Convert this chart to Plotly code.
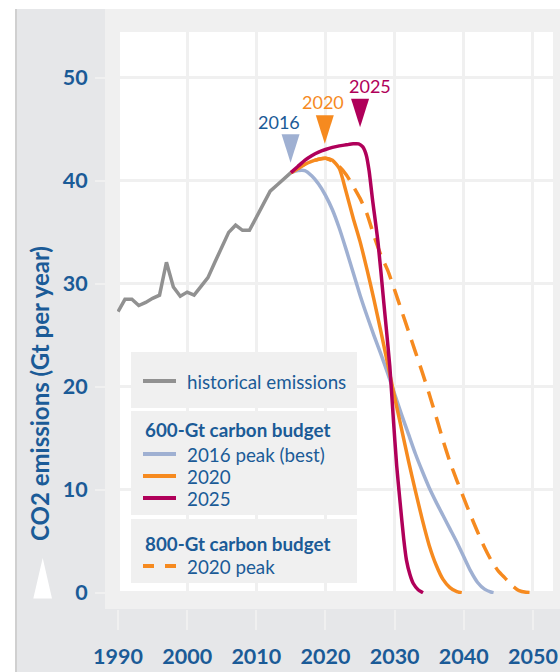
import plotly.graph_objects as go

W, H = 560, 672

# historical emissions (Gt CO2 per year)
hist_years = list(range(1990, 2016))
hist_values = [27.3, 28.5, 28.5, 27.9, 28.2, 28.6, 28.9, 32.1, 29.7, 28.8,
               29.2, 28.9, 29.75, 30.6, 32.1, 33.6, 35.0, 35.7, 35.2, 35.2,
               36.5, 37.8, 39.0, 39.6, 40.2, 40.8]

# 600-Gt budget, peak in 2016 (best)
p2016_years = [2015, 2016, 2017, 2018, 2019, 2020, 2021, 2022, 2023, 2024,
               2025, 2026, 2027, 2028, 2029, 2030, 2031, 2032, 2033, 2034,
               2035, 2036, 2037, 2038, 2039, 2040, 2041, 2042, 2043, 2044, 2044.3]
p2016_values = [40.8, 41.0, 41.0, 40.5, 39.7, 38.6, 37.2, 35.4, 33.3, 31.1,
                28.9, 26.9, 25.0, 23.2, 21.3, 19.3, 17.3, 15.4, 13.5, 11.8,
                10.2, 8.8, 7.5, 6.2, 4.9, 3.5, 2.1, 1.0, 0.35, 0.05, 0.0]

# 600-Gt budget, peak in 2020
p2020_years = [2015, 2016, 2017, 2018, 2019, 2020, 2021, 2022, 2023, 2024,
               2025, 2026, 2027, 2028, 2029, 2030, 2031, 2032, 2033, 2034,
               2035, 2036, 2037, 2038, 2039, 2039.7]
p2020_values = [40.8, 41.2, 41.6, 41.9, 42.1, 42.2, 42.0, 41.2, 38.9, 36.4,
                34.1, 31.4, 28.5, 25.4, 22.2, 19.0, 15.9, 12.8, 9.9, 7.1,
                4.6, 2.7, 1.3, 0.5, 0.1, 0.0]

# 600-Gt budget, peak in 2025
p2025_years = [2015, 2016, 2017, 2018, 2019, 2020, 2021, 2022, 2023, 2024,
               2024.8, 2025.4, 2025.9, 2026.3, 2026.8, 2027.6, 2028.4, 2029.3,
               2029.8, 2030.3, 2030.8, 2031.3, 2031.7, 2032.2, 2032.7, 2033.4, 2034.1]
p2025_values = [40.8, 41.4, 42.0, 42.45, 42.8, 43.05, 43.25, 43.4, 43.5, 43.6,
                43.6, 43.3, 42.5, 41.0, 38.2, 34.0, 28.4, 22.0,
                17.0, 12.3, 8.7, 5.3, 3.2, 1.8, 0.9, 0.3, 0.0]

# 800-Gt budget, peak in 2020
b800_years = [2015, 2016, 2017, 2018, 2019, 2020, 2021, 2022, 2023, 2024,
              2025, 2026, 2027, 2028, 2029, 2030, 2031, 2032, 2033, 2034,
              2035, 2036, 2037, 2038, 2039, 2040, 2041, 2042, 2043, 2044,
              2045, 2046, 2047, 2048, 2049, 2050.3]
b800_values = [40.8, 41.2, 41.6, 41.9, 42.1, 42.2, 41.9, 41.4, 40.6, 39.5,
               38.3, 36.8, 34.7, 32.8, 31.3, 29.4, 27.4, 25.4, 23.4, 21.4,
               19.3, 17.1, 14.8, 12.7, 10.9, 9.2, 7.5, 5.9, 4.4, 3.1,
               2.1, 1.4, 0.7, 0.2, 0.05, 0.0]

# peak markers and their labels
peak_labels = ["2016", "2020", "2025"]
peak_years = [2014.95, 2019.9, 2025.0]
peak_values = [41.75, 43.6, 45.2]
label_years = [2013.3, 2019.65, 2026.4]
label_values = [45.7, 47.7, 49.2]

# legend rows: label, colour key, dashed?, bold group title?
legend_rows = [
    ("historical emissions", "gray", False, False),
    ("600-Gt carbon budget", None, False, True),
    ("2016 peak (best)", "lav", False, False),
    ("2020", "orange", False, False),
    ("2025", "crimson", False, False),
    ("800-Gt carbon budget", None, False, True),
    ("2020 peak", "orange", True, False),
]
legend_row_y = [381, 430, 454, 476, 498, 543, 566]  # pixel centres
legend_boxes = [(352, 408), (411, 515), (519, 583)]

BLUE_TXT = "#1b5b97"
COLORS = dict(gray="#919191", lav="#9fb0d2", orange="#f68a1f", crimson="#b0005a")
FRAME = "#f0f0f0"
PANEL = "#e6e7e9"
peak_colors = [COLORS["lav"], COLORS["orange"], COLORS["crimson"]]
label_colors = [BLUE_TXT, COLORS["orange"], COLORS["crimson"]]


# screen pixel -> paper fraction
def px(x):
    return x / W


def py(y):
    return 1 - y / H


fig = go.Figure()

fig.add_trace(go.Scatter(x=hist_years, y=hist_values, mode="lines",
                         name="historical emissions",
                         line=dict(color=COLORS["gray"], width=3.5)))
fig.add_trace(go.Scatter(x=p2016_years, y=p2016_values, mode="lines",
                         name="2016 peak (best)",
                         line=dict(color=COLORS["lav"], width=3.5, shape="spline", smoothing=0.6)))
fig.add_trace(go.Scatter(x=b800_years, y=b800_values, mode="lines",
                         name="2020 peak (800 Gt)",
                         line=dict(color=COLORS["orange"], width=3.5, dash="17px,10px",
                                   shape="spline", smoothing=0.6)))
fig.add_trace(go.Scatter(x=p2020_years, y=p2020_values, mode="lines",
                         name="2020",
                         line=dict(color=COLORS["orange"], width=3.5, shape="spline", smoothing=0.6)))
fig.add_trace(go.Scatter(x=p2025_years, y=p2025_values, mode="lines",
                         name="2025",
                         line=dict(color=COLORS["crimson"], width=3.5, shape="spline", smoothing=0.6)))


def rect(x0, x1, y0, y1, color, layer="below"):
    return dict(type="rect", xref="paper", yref="paper",
                x0=px(x0), x1=px(x1), y0=py(y1), y1=py(y0),
                fillcolor=color, line=dict(width=0), layer=layer)


shapes = [
    rect(16, 570, 9, 680, PANEL),          # outer panel
    rect(105, 570, 9, 609, FRAME),         # light frame
    rect(117, 553, 32, 594, "white"),      # plot area
    dict(type="line", xref="paper", yref="paper", x0=px(16), x1=px(16),
         y0=py(680), y1=py(9), line=dict(color="#d0d0d0", width=2)),
    # white arrow on the left
    dict(type="path", xref="paper", yref="paper",
         path=f"M{px(42.7)},{py(558)} L{px(52)},{py(598.5)} L{px(33.3)},{py(598.5)} Z",
         fillcolor="white", line=dict(width=0)),
]
for top, bottom in legend_boxes:
    shapes.append(rect(131, 357, top, bottom, FRAME, layer="above"))
# peak triangles
for yr, val, col in zip(peak_years, peak_values, peak_colors):
    shapes.append(dict(type="path", xref="x", yref="y",
                       xsizemode="pixel", ysizemode="pixel",
                       xanchor=yr, yanchor=val,
                       path="M0,0 L-9,28.5 L9,28.5 Z",
                       fillcolor=col, line=dict(width=0)))

annotations = [
    dict(text="CO2 emissions (Gt per year)", xref="paper", yref="paper",
         x=px(39), y=py(394), xanchor="center", yanchor="middle",
         textangle=-90, showarrow=False,
         font=dict(family="Lato", size=24, color=BLUE_TXT, weight="bold")),
]
for txt, yr, val, col in zip(peak_labels, label_years, label_values, label_colors):
    annotations.append(dict(text=txt, x=yr, y=val, xref="x", yref="y",
                            showarrow=False,
                            font=dict(family="Lato", size=18, color=col)))

# legend drawn by hand
for (txt, ckey, dashed, is_title), ypx in zip(legend_rows, legend_row_y):
    if is_title:
        annotations.append(dict(text=txt, xref="paper", yref="paper",
                                x=px(143), y=py(ypx), xanchor="left", yanchor="middle",
                                showarrow=False,
                                font=dict(family="Lato", size=18.8, color=BLUE_TXT, weight="bold")))
        continue
    shapes.append(dict(type="line", xref="paper", yref="paper",
                       x0=px(143), x1=px(176), y0=py(ypx), y1=py(ypx),
                       line=dict(color=COLORS[ckey], width=4,
                                 dash="11px,11px" if dashed else "solid"),
                       layer="above"))
    annotations.append(dict(text=txt, xref="paper", yref="paper",
                            x=px(185), y=py(ypx), xanchor="left", yanchor="middle",
                            showarrow=False,
                            font=dict(family="Lato", size=18.8, color=BLUE_TXT)))

fig.update_layout(
    width=W, height=H, autosize=False,
    margin=dict(l=0, r=0, t=0, b=0, autoexpand=False),
    paper_bgcolor="white",
    plot_bgcolor="rgba(0,0,0,0)",
    showlegend=False,
    hovermode=False,
    font=dict(family="Lato", color=BLUE_TXT),
    shapes=shapes,
    annotations=annotations,
    xaxis=dict(domain=[px(117), px(553)], range=[1989.85, 2052.9],
               anchor="free", position=py(609), automargin=False,
               tickvals=[1990, 2000, 2010, 2020, 2030, 2040, 2050],
               ticks="outside", ticklen=20, tickwidth=2, tickcolor=FRAME,
               ticklabelstandoff=8,
               tickfont=dict(family="Lato", size=21.5, color=BLUE_TXT, weight="bold"),
               showgrid=True, gridcolor=FRAME, gridwidth=3,
               zeroline=False, showline=False),
    yaxis=dict(domain=[py(594), py(32)], range=[-0.12, 54.46],
               anchor="free", position=px(105), automargin=False,
               tickvals=[0, 10, 20, 30, 40, 50],
               ticks="outside", ticklen=10, tickwidth=2, tickcolor=FRAME,
               ticklabelstandoff=3,
               tickfont=dict(family="Lato", size=21.5, color=BLUE_TXT, weight="bold"),
               showgrid=True, gridcolor=FRAME, gridwidth=3,
               zeroline=False, showline=False),
)

# drop the page's default body margin so the figure fills the window
fig.write_html("out.html", config={"displayModeBar": False},
               post_script="document.body.style.margin='0';document.body.style.overflow='hidden';")
